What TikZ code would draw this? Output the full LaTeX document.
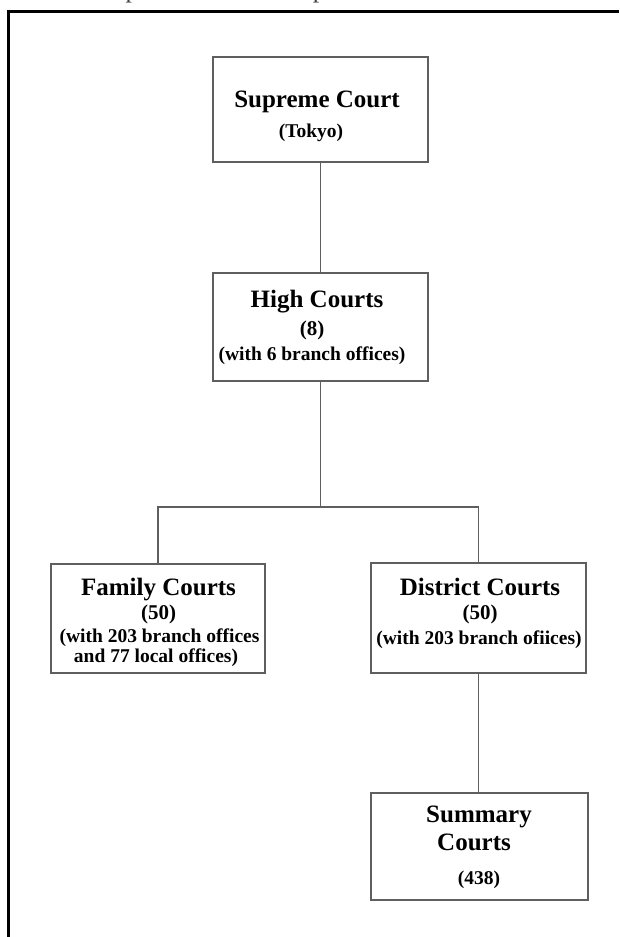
\documentclass[tikz,border=0pt]{standalone}
\usepackage{fontspec}
\setmainfont{Liberation Serif}
\definecolor{boxgray}{RGB}{95,95,95}
\tikzset{
  courtbox/.style={draw=boxgray, line width=1.8pt, inner sep=0pt},
  conn/.style={draw=boxgray, line width=1.8pt},
  frame/.style={draw=black, line width=2.4pt},
  ttl/.style={anchor=base, inner sep=0pt, font=\bfseries\fontsize{25}{29}\selectfont},
  num/.style={anchor=base, inner sep=0pt, font=\bfseries\fontsize{21}{25}\selectfont},
  sub/.style={anchor=base, inner sep=0pt, font=\bfseries\fontsize{19.5}{23}\selectfont}
}
\begin{document}
\begin{tikzpicture}[x=1pt,y=-1pt]
\useasboundingbox (0,0) rectangle (619,937);
\begin{scope}
\clip (0,0) rectangle (619,937);
\node[anchor=base west, inner sep=0pt, text=black!75, font=\fontsize{26}{30}\selectfont] (src) at (10,-2.5) {Source: Supreme Court of Japan website};
\end{scope}
\draw[frame] (8.5,937) -- (8.5,11.5) -- (619,11.5);

% boxes
\node[courtbox, minimum width=215pt, minimum height=105pt] (sc) at (320.5,109.5) {};
\node[courtbox, minimum width=215pt, minimum height=108pt] (hc) at (320.5,327) {};
\node[courtbox, minimum width=214pt, minimum height=109pt] (fc) at (158,618.5) {};
\node[courtbox, minimum width=215pt, minimum height=110pt] (dc) at (478.5,618) {};
\node[courtbox, minimum width=217pt, minimum height=107pt] (smc) at (479.5,846.5) {};

% texts
\node[ttl] (sc1) at (317,107) {Supreme Court};
\node[sub] (sc2) at (311,137) {(Tokyo)};
\node[ttl] (hc1) at (317,307) {High Courts};
\node[num] (hc2) at (312,335) {(8)};
\node[sub] (hc3) at (312,360) {(with 6 branch offices)};
\node[ttl] (fc1) at (158.5,595) {Family Courts};
\node[num] (fc2) at (158.5,619) {(50)};
\node[sub] (fc3) at (159.5,642) {(with 203 branch offices};
\node[sub] (fc4) at (156,662) {and 77 local offices)};
\node[ttl] (dc1) at (480,595) {District Courts};
\node[num] (dc2) at (480,619) {(50)};
\node[sub] (dc3) at (479,644) {(with 203 branch ofiices)};
\node[ttl] (smc1) at (479,822) {Summary};
\node[ttl] (smc2) at (474,850) {Courts};
\node[sub] (smc3) at (479,884) {(438)};

\coordinate (j) at (320.5,507);
\draw[conn] (sc.south) -- (hc.north);
\draw[conn] (hc.south) -- (j);
\draw[conn] (fc.north) |- (j) -| (dc.north);
\draw[conn] (dc.south) -- (dc.south |- smc.north);
\end{tikzpicture}
\end{document}
